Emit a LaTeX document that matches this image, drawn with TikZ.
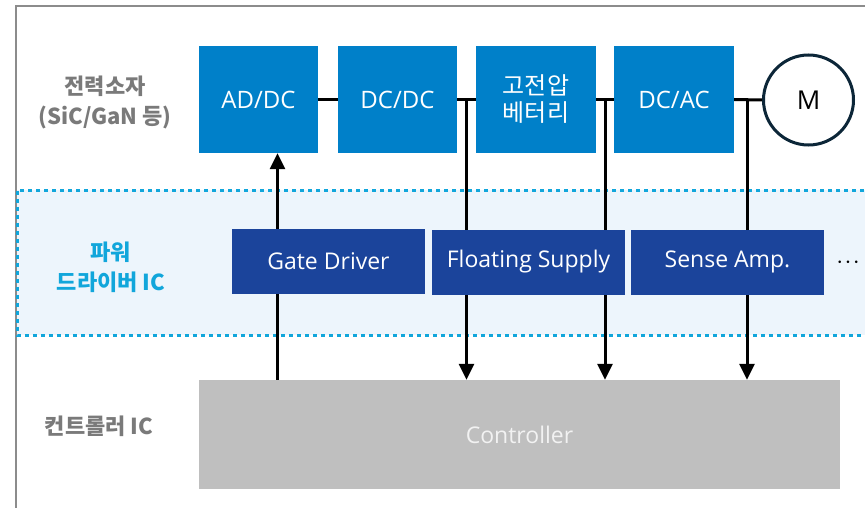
\documentclass[tikz,border=0pt]{standalone}
\usepackage{fontspec}
\setmainfont{Open Sans}
\newfontfamily\kr{Noto Sans CJK KR}
\usetikzlibrary{arrows.meta,calc}
\definecolor{pblue}{RGB}{0,128,201}
\definecolor{dblue}{RGB}{27,68,155}
\definecolor{bandfill}{RGB}{237,245,252}
\definecolor{dotblue}{RGB}{17,166,219}
\definecolor{lblgray}{RGB}{122,122,122}
\definecolor{ctrlgray}{RGB}{191,191,191}
\definecolor{ctrltext}{RGB}{242,242,242}
\definecolor{motor}{RGB}{12,38,56}
\definecolor{framegray}{RGB}{140,140,140}
\begin{document}
\begin{tikzpicture}[x=1pt,y=-1pt,
  stage/.style={fill=pblue, text=white, minimum width=119pt, minimum height=107pt, inner sep=0pt, align=center, font=\fontsize{24}{29}\selectfont},
  driver/.style={fill=dblue, text=white, minimum width=193pt, minimum height=65pt, inner sep=0pt, font=\fontsize{23}{28}\selectfont},
  rowlabel/.style={text=lblgray, align=center, inner sep=0pt, font=\kr\bfseries\fontsize{22}{30}\selectfont},
  conn/.style={line width=3pt, black},
  tip/.style={-{Triangle[length=16pt,width=15pt]}}
]
\useasboundingbox (0,0) rectangle (865,508);
\fill[white] (0,0) rectangle (865,508);
% frame
\draw[framegray, line width=1.5pt] (16,509) -- (16,6) -- (870,6);
% band
\fill[bandfill] (17,190) rectangle (880,335);
\draw[dotblue, line width=3pt, dash pattern=on 4pt off 4pt] (880,190) -- (17,190) -- (17,335) -- (880,335);

% top stages
\node[stage] (addc) at (258.5,99.5) {AD/DC};
\node[stage] (dcdc) at (397.5,99.5) {DC/DC};
\node[stage, minimum width=120pt] (hv) at (536,99.5) {\kr 고전압\\[-2pt]\kr 베터리};
\node[stage, minimum width=120pt] (dcac) at (674,99.5) {DC/AC};
\node[circle, draw=motor, line width=3pt, minimum size=90pt, inner sep=0pt, font=\fontsize{26}{30}\selectfont] (m) at (808.5,100) {M};

% controller
\node[fill=ctrlgray, text=ctrltext, minimum width=641pt, minimum height=109pt, inner sep=0pt, font=\fontsize{23}{28}\selectfont] (ctrl) at (519.5,434.5) {Controller};

% row labels
\node[rowlabel] (lpow) at (105,102) {전력소자\\(SiC/GaN 등)};
\node[rowlabel, text=dotblue] (ldrv) at (111,267) {파워\\드라이버 IC};
\node[rowlabel] (lctl) at (99,426) {컨트롤러 IC};

% horizontal connectors
\draw[conn] (addc.east) -- (dcdc.west);
\draw[conn] (dcdc.east) -- (hv.west);
\draw[conn] (hv.east) -- (dcac.west);
\draw[conn] (dcac.east) -- (m.west);

% junctions
\coordinate (j1) at ($(dcdc.east)!0.5!(hv.west)$);
\coordinate (j2) at ($(hv.east)!0.5!(dcac.west)$);
\coordinate (j3) at (747,99.5);
\coordinate (gx) at (277.5,300);

\draw[conn, tip] (j1) -- (j1 |- ctrl.north);
\draw[conn, tip] (j2) -- (j2 |- ctrl.north);
\draw[conn, tip] (j3) -- (j3 |- ctrl.north);
\draw[conn, tip] (gx |- ctrl.north) -- (gx |- addc.south);

% drivers
\node[driver] (gd) at (328.5,261.5) {Gate Driver};
\node[driver] (fs) at (528.5,262) {Floating Supply};
\node[driver] (sa) at (727.5,262) {Sense Amp.};
\node[inner sep=0pt, font=\fontsize{26}{26}\selectfont] (more) at (848,263) {${\cdot}\mkern1mu{\cdot}\mkern1mu{\cdot}$};
\end{tikzpicture}
\end{document}
